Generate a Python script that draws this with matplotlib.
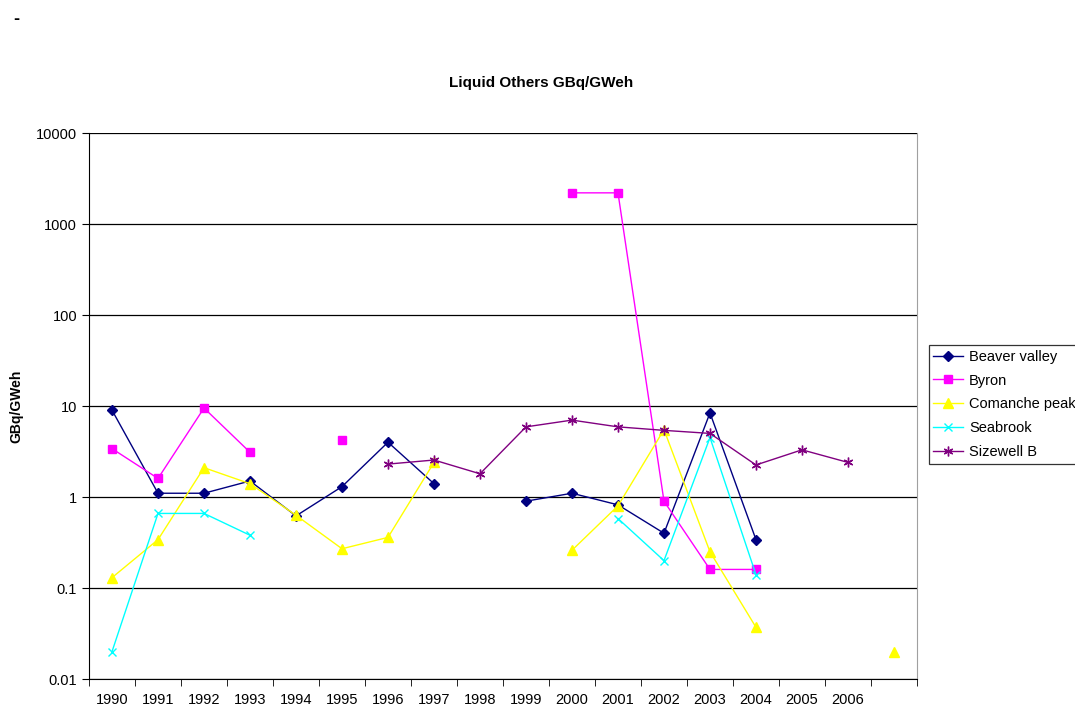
import numpy as np
import matplotlib.pyplot as plt

plt.rcParams['font.family'] = ['Liberation Sans', 'DejaVu Sans']

nan = np.nan
years = ["1990", "1991", "1992", "1993", "1994", "1995", "1996", "1997", "1998",
         "1999", "2000", "2001", "2002", "2003", "2004", "2005", "2006", ""]

beaver_valley = [9.0, 1.1, 1.1, 1.5, 0.62, 1.3, 4.0, 1.4, nan,
                 0.9, 1.1, 0.82, 0.40, 8.4, 0.34, nan, nan, nan]
byron = [3.4, 1.6, 9.5, 3.1, nan, 4.2, nan, nan, nan,
         nan, 2200, 2200, 0.9, 0.16, 0.16, nan, nan, nan]
comanche_peak = [0.13, 0.34, 2.1, 1.4, 0.63, 0.27, 0.36, 2.4, nan,
                 nan, 0.26, 0.8, 5.5, 0.25, 0.037, nan, nan, 0.02]
seabrook = [0.02, 0.66, 0.66, 0.38, nan, nan, nan, nan, nan,
            nan, nan, 0.58, 0.2, 4.5, 0.14, nan, nan, nan]
sizewell_b = [nan, nan, nan, nan, nan, nan, 2.3, 2.55, 1.8,
              5.9, 7.0, 5.9, 5.4, 5.0, 2.25, 3.3, 2.4, nan]

series = [
    ("Beaver valley", beaver_valley, "#000080", "D", 5),
    ("Byron", byron, "#FF00FF", "s", 6),
    ("Comanche peak", comanche_peak, "#FFFF00", "^", 7),
    ("Seabrook", seabrook, "#00FFFF", "x", 6),
    ("Sizewell B", sizewell_b, "#800080", (6, 2, 0), 7),
]

fig = plt.figure(figsize=(10.75, 7.09), dpi=100)
ax = fig.add_axes([0.0828, 0.0423, 0.7702, 0.7701])

x = np.arange(len(years))
for name, vals, col, mk, ms in series:
    ax.plot(x, vals, color=col, lw=1.0, marker=mk, markersize=ms, mew=1.0,
            markerfacecolor=col, markeredgecolor=col, label=name)

ax.set_yscale('log')
ax.set_ylim(0.01, 10000)
ax.set_xlim(-0.5, len(years) - 0.5)

ax.set_xticks(x)
ax.set_xticklabels(years, fontsize=10.5)
ax.set_xticks(np.arange(len(years) + 1) - 0.5, minor=True)
ax.tick_params(axis='x', which='major', length=0, pad=10)
ax.tick_params(axis='x', which='minor', length=5, direction='out', color='black')

yt = [0.01, 0.1, 1, 10, 100, 1000, 10000]
ax.set_yticks(yt)
ax.set_yticklabels(["0.01", "0.1", "1", "10", "100", "1000", "10000"], fontsize=10.5)
ax.yaxis.set_minor_locator(plt.NullLocator())
ax.tick_params(axis='y', length=5, direction='out')

ax.grid(axis='y', which='major', color='black', lw=0.9)
ax.set_axisbelow(True)
ax.spines['top'].set_visible(False)
ax.spines['right'].set_color('#a0a0a0')
ax.spines['left'].set_color('black')
ax.spines['bottom'].set_color('black')

ax.set_ylabel("GBq/GWeh", fontsize=10, fontweight='bold', labelpad=9)

fig.text(0.503, 0.883, "Liquid Others GBq/GWeh", ha='center', va='center',
         fontsize=11, fontweight='bold')
fig.text(0.015, 0.972, "-", ha='center', va='center', fontsize=13, fontweight='bold')

leg = fig.legend(loc='upper left', bbox_to_anchor=(0.864, 0.513), fontsize=10.5,
                 frameon=True, fancybox=False, edgecolor='black',
                 borderpad=0.3, labelspacing=0.68, handlelength=2.05,
                 handletextpad=0.4, borderaxespad=0)
leg.get_frame().set_linewidth(0.9)

fig.savefig("out.png", dpi=100)
